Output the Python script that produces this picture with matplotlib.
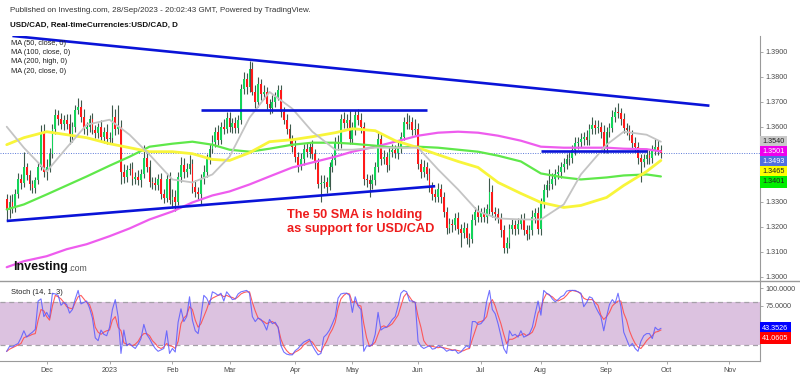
import numpy as np
import pandas as pd
import matplotlib
matplotlib.use("Agg")
import matplotlib.pyplot as plt
import matplotlib.transforms as mtransforms
from matplotlib.lines import Line2D

plt.rcParams['font.family'] = ['Liberation Sans', 'DejaVu Sans']

# ---------------- data ----------------
start_day = "2022-11-11"
first_open = 1.3310

closes = [
    # Nov 2022
    1.3265, 1.3300, 1.3280, 1.3330, 1.3390, 1.3375, 1.3440, 1.3405, 1.3370, 1.3355, 1.3385, 1.3440, 1.3580, 1.3420,
    # Dec
    1.3440, 1.3490, 1.3590, 1.3645, 1.3630, 1.3610, 1.3625, 1.3610, 1.3565, 1.3600, 1.3665, 1.3680, 1.3640, 1.3590,
    1.3600, 1.3630, 1.3585, 1.3575, 1.3600, 1.3560, 1.3580, 1.3550,
    # Jan 2023
    1.3555, 1.3640, 1.3590, 1.3600, 1.3420, 1.3400, 1.3425, 1.3430, 1.3390, 1.3400, 1.3385, 1.3410, 1.3475, 1.3440,
    1.3380, 1.3375, 1.3365, 1.3390, 1.3330, 1.3315, 1.3390, 1.3305,
    # Feb
    1.3320, 1.3300, 1.3400, 1.3445, 1.3420, 1.3430, 1.3450, 1.3360, 1.3340, 1.3330, 1.3390, 1.3420, 1.3470, 1.3510,
    1.3540, 1.3580, 1.3545, 1.3600, 1.3590, 1.3635,
    # Mar
    1.3600, 1.3615, 1.3595, 1.3625, 1.3750, 1.3790, 1.3760, 1.3830, 1.3740, 1.3700, 1.3770, 1.3730, 1.3740, 1.3690,
    1.3675, 1.3700, 1.3720, 1.3745, 1.3660, 1.3625, 1.3590, 1.3545, 1.3520,
    # Apr
    1.3480, 1.3445, 1.3470, 1.3510, 1.3500, 1.3520, 1.3490, 1.3455, 1.3370, 1.3375, 1.3380, 1.3360, 1.3440, 1.3465,
    1.3540, 1.3530, 1.3630, 1.3615, 1.3625, 1.3550,
    # May
    1.3590, 1.3645, 1.3625, 1.3600, 1.3390, 1.3385, 1.3370, 1.3385, 1.3440, 1.3550, 1.3470, 1.3480, 1.3445, 1.3500,
    1.3505, 1.3495, 1.3515, 1.3560, 1.3620, 1.3610, 1.3620, 1.3585, 1.3590,
    # Jun
    1.3450, 1.3420, 1.3440, 1.3410, 1.3360, 1.3330, 1.3320, 1.3350, 1.3320, 1.3260, 1.3195, 1.3210, 1.3205, 1.3235,
    1.3190, 1.3175, 1.3195, 1.3155, 1.3150, 1.3225, 1.3260, 1.3240,
    # Jul
    1.3255, 1.3240, 1.3270, 1.3340, 1.3260, 1.3250, 1.3235, 1.3185, 1.3115, 1.3135, 1.3190, 1.3205, 1.3190, 1.3210,
    1.3230, 1.3185, 1.3170, 1.3185, 1.3240, 1.3255, 1.3190,
    # Aug
    1.3295, 1.3345, 1.3365, 1.3370, 1.3390, 1.3410, 1.3420, 1.3440, 1.3450, 1.3470, 1.3475, 1.3505, 1.3535, 1.3540,
    1.3550, 1.3560, 1.3545, 1.3590, 1.3605, 1.3595, 1.3600, 1.3580, 1.3515,
    # Sep
    1.3580, 1.3595, 1.3640, 1.3660, 1.3655, 1.3630, 1.3595, 1.3585, 1.3565, 1.3535, 1.3520, 1.3475, 1.3460, 1.3470,
    1.3485, 1.3475, 1.3505, 1.3520, 1.3505, 1.3493,
]

# upper / lower shadows, in pips
wick_up = [
    20, 25, 30, 20, 25, 20, 60, 15, 20, 15, 15, 20, 25, 30,
    30, 25, 20, 25, 20, 25, 20, 25, 40, 20, 20, 35, 25, 30, 20, 15, 25, 20, 15, 25, 20, 30,
    25, 48, 30, 85, 25, 30, 20, 25, 30, 20, 25, 20, 53, 20, 25, 20, 25, 20, 25, 20, 25, 30,
    30, 25, 20, 35, 30, 25, 38, 20, 25, 20, 20, 25, 20, 20, 25, 20, 25, 20, 30, 25,
    25, 20, 25, 20, 20, 30, 25, 32, 30, 25, 30, 20, 25, 20, 20, 25, 20, 20, 20, 20, 25, 20, 20,
    25, 20, 25, 20, 25, 20, 25, 20, 20, 30, 25, 20, 20, 25, 20, 25, 20, 30, 25, 43,
    30, 20, 25, 30, 20, 20, 20, 25, 20, 30, 20, 25, 20, 20, 25, 20, 25, 20, 20, 35, 25, 20, 40,
    25, 20, 25, 20, 25, 20, 20, 25, 20, 20, 20, 25, 20, 20, 25, 20, 25, 20, 20, 25, 20, 25,
    20, 25, 20, 56, 25, 20, 25, 20, 20, 25, 20, 25, 20, 25, 20, 25, 20, 20, 25, 20, 25,
    20, 25, 20, 60, 25, 20, 25, 20, 25, 20, 25, 20, 25, 20, 25, 20, 25, 20, 35, 20, 25, 20, 25,
    20, 20, 25, 20, 34, 20, 25, 20, 20, 20, 25, 20, 15, 20, 25, 20, 20, 30, 25, 20,
]
wick_dn = [
    40, 30, 25, 20, 15, 25, 15, 20, 25, 20, 20, 15, 15, 20,
    35, 20, 15, 20, 25, 20, 25, 20, 35, 25, 20, 15, 20, 20, 25, 20, 15, 20, 20, 20, 25, 20,
    20, 20, 25, 20, 50, 25, 20, 20, 25, 20, 20, 25, 15, 20, 20, 25, 20, 20, 20, 20, 15, 15,
    30, 38, 15, 20, 25, 20, 20, 25, 20, 25, 41, 20, 20, 20, 15, 20, 20, 15, 20, 15,
    20, 25, 20, 20, 15, 20, 30, 20, 15, 25, 20, 25, 20, 20, 25, 20, 20, 15, 20, 15, 20, 15, 20,
    20, 25, 20, 25, 20, 25, 20, 25, 15, 70, 20, 25, 15, 20, 20, 25, 15, 20, 20, 20,
    20, 25, 20, 25, 25, 25, 50, 20, 20, 20, 25, 20, 25, 20, 20, 20, 25, 20, 15, 20, 20, 20, 20,
    20, 25, 20, 25, 20, 25, 20, 20, 25, 20, 25, 20, 25, 20, 20, 58, 20, 25, 30, 15, 20, 20,
    20, 20, 25, 20, 20, 25, 20, 25, 20, 22, 20, 20, 25, 20, 20, 20, 25, 20, 20, 25, 20,
    25, 20, 25, 20, 20, 25, 20, 25, 20, 20, 25, 20, 20, 25, 20, 25, 20, 20, 20, 25, 20, 25, 20,
    20, 20, 15, 20, 20, 25, 20, 20, 20, 25, 20, 25, 80, 20, 20, 25, 20, 20, 20, 20,
]

# Stoch (14, 1, 3): %K (blue) and %D (red)
stoch_k = [
    11, 18, 17, 20, 22, 30, 40, 31, 35, 38, 42, 82, 85, 60,
    66, 58, 93, 92, 90, 76, 80, 77, 65, 70, 85, 97, 78, 80, 82, 72, 58, 30, 26, 41, 35, 33,
    45, 70, 84, 60, 8, 41, 19, 22, 18, 15, 21, 29, 49, 35, 29, 21, 15, 11, 13, 15, 40, 8,
    15, 10, 52, 71, 53, 60, 88, 55, 40, 36, 60, 90, 86, 77, 95, 93, 90, 93, 82, 95,
    90, 84, 85, 92, 95, 96, 97, 93, 60, 53, 58, 56, 50, 41, 56, 50, 52, 45, 19, 10, 7, 6, 6,
    12, 15, 20, 24, 26, 28, 19, 12, 6, 8, 31, 35, 41, 50, 60, 86, 92, 93, 93, 90,
    66, 88, 75, 70, 11, 19, 18, 21, 35, 66, 41, 44, 45, 50, 56, 60, 75, 93, 97, 95, 82, 82, 80,
    25, 18, 15, 17, 19, 14, 15, 19, 17, 15, 11, 13, 12, 13, 8, 10, 15, 19, 16, 53, 53, 49,
    50, 55, 81, 97, 70, 64, 50, 33, 15, 8, 40, 33, 35, 31, 40, 31, 33, 36, 45, 64, 82,
    62, 97, 93, 91, 85, 81, 84, 88, 90, 96, 97, 97, 97, 95, 93, 74, 80, 88, 86, 75, 67, 60, 40,
    60, 77, 84, 79, 93, 74, 38, 28, 18, 22, 15, 11, 25, 33, 36, 36, 29, 45, 41, 43.3526,
]
stoch_d = [
    11, 14, 16, 18, 20, 22, 30, 32, 33, 35, 36, 55, 70, 68,
    60, 55, 75, 90, 88, 85, 80, 74, 72, 71, 80, 88, 90, 85, 80, 77, 65, 45, 38, 35, 38, 40,
    41, 55, 60, 45, 40, 23, 21, 20, 19, 21, 25, 32, 36, 36, 33, 26, 22, 17, 15, 17, 22, 19,
    18, 15, 25, 50, 58, 62, 74, 70, 55, 45, 50, 60, 70, 82, 86, 88, 90, 91, 88, 90,
    88, 87, 85, 88, 92, 94, 95, 95, 80, 68, 58, 55, 53, 50, 52, 53, 50, 45, 28, 18, 12, 8, 7,
    10, 12, 15, 20, 23, 26, 24, 18, 12, 10, 18, 25, 35, 42, 52, 72, 85, 90, 93, 92,
    80, 82, 76, 75, 50, 30, 18, 20, 24, 35, 45, 47, 45, 47, 50, 56, 62, 75, 88, 93, 88, 82, 80,
    60, 45, 26, 20, 18, 18, 17, 16, 17, 16, 15, 14, 13, 13, 12, 11, 12, 14, 15, 28, 40, 52,
    53, 55, 60, 78, 84, 75, 62, 50, 35, 22, 28, 28, 30, 33, 34, 36, 33, 35, 38, 47, 65,
    72, 85, 93, 90, 88, 84, 82, 84, 86, 90, 95, 97, 96, 95, 92, 86, 84, 84, 84, 80, 76, 62, 56,
    60, 66, 75, 79, 82, 82, 65, 55, 40, 30, 22, 17, 15, 20, 26, 30, 33, 38, 39, 41.0605,
]

# moving averages, sampled every ~10 days
ma_dates = ["2022-11-11", "2022-11-21", "2022-12-01", "2022-12-12", "2022-12-21", "2023-01-02",
            "2023-01-11", "2023-01-20", "2023-02-01", "2023-02-10", "2023-02-21", "2023-03-01",
            "2023-03-10", "2023-03-21", "2023-03-31", "2023-04-11", "2023-04-21", "2023-05-01",
            "2023-05-11", "2023-05-22", "2023-06-01", "2023-06-12", "2023-06-21", "2023-06-30",
            "2023-07-11", "2023-07-21", "2023-08-01", "2023-08-11", "2023-08-21", "2023-09-01",
            "2023-09-11", "2023-09-21", "2023-09-28"]
ma20 = [1.3600, 1.3516, 1.3421, 1.3516, 1.3608, 1.3628, 1.3568, 1.3488, 1.3389, 1.3377, 1.3409,
        1.3480, 1.3636, 1.3739, 1.3672, 1.3580, 1.3508, 1.3508, 1.3516, 1.3516, 1.3516, 1.3429,
        1.3349, 1.3261, 1.3233, 1.3229, 1.3229, 1.3289, 1.3409, 1.3528, 1.3580, 1.3568, 1.3540]
ma50 = [1.3528, 1.3556, 1.3580, 1.3568, 1.3556, 1.3532, 1.3516, 1.3500, 1.3500, 1.3492, 1.3469,
        1.3465, 1.3496, 1.3540, 1.3548, 1.3560, 1.3576, 1.3592, 1.3584, 1.3544, 1.3516, 1.3488,
        1.3461, 1.3437, 1.3377, 1.3333, 1.3297, 1.3277, 1.3285, 1.3317, 1.3365, 1.3421, 1.3465]
ma100 = [1.3269, 1.3289, 1.3329, 1.3365, 1.3401, 1.3444, 1.3480, 1.3520, 1.3532, 1.3540, 1.3528,
         1.3508, 1.3500, 1.3512, 1.3528, 1.3536, 1.3536, 1.3532, 1.3524, 1.3516, 1.3520, 1.3516,
         1.3508, 1.3500, 1.3484, 1.3461, 1.3413, 1.3397, 1.3389, 1.3397, 1.3405, 1.3409, 1.3401]
ma200 = [1.3038, 1.3062, 1.3082, 1.3110, 1.3130, 1.3162, 1.3193, 1.3229, 1.3261, 1.3297, 1.3325,
         1.3341, 1.3369, 1.3401, 1.3437, 1.3457, 1.3480, 1.3500, 1.3520, 1.3540, 1.3564, 1.3576,
         1.3580, 1.3576, 1.3564, 1.3544, 1.3520, 1.3516, 1.3516, 1.3516, 1.3512, 1.3510, 1.3501]

# hand drawn lines: (start date, start price, end date, end price)
line_starts = ["2022-11-10", "2022-11-15", "2023-02-15", "2023-08-01"]
line_ends = ["2023-06-09", "2023-10-23", "2023-06-06", "2023-09-21"]
line_p0 = [1.3223, 1.3963, 1.3666, 1.3502]
line_p1 = [1.3362, 1.3684, 1.3666, 1.3502]

month_labels = ["Dec", "2023", "Feb", "Mar", "Apr", "May", "Jun", "Jul", "Aug", "Sep", "Oct", "Nov"]
month_starts = pd.date_range("2022-12-01", periods=12, freq="MS")

# ---------------- helpers ----------------
days = pd.bdate_range(start_day, periods=280)


def bar_of(d):
    return int(days.searchsorted(pd.Timestamp(d)))


n = len(closes)
x = np.arange(n)
c = np.array(closes)
o = np.array([first_open] + closes[:-1])
hi = np.maximum(o, c) + np.array(wick_up) / 10000
lo = np.minimum(o, c) - np.array(wick_dn) / 10000
rising = c >= o

GREEN = "#14d45a"
RED = "#ff1a1a"
WICK = "#3e5a4c"
AXIS = "#9a9a9a"
TXT = "#4a4a4a"

fig = plt.figure(figsize=(8, 3.76), dpi=100)
ax = fig.add_axes([0, 1 - 281 / 376, 760 / 800, 245 / 376])
ax2 = fig.add_axes([0, 1 - 361 / 376, 760 / 800, 80 / 376], sharex=ax)

xlim = (-2.35, 263.7)

# ---- candles
ax.vlines(x, lo, hi, color=WICK, lw=0.8, zorder=3)
body = np.maximum(np.abs(c - o), 0.00025)
ax.bar(x[rising], body[rising], bottom=np.minimum(o, c)[rising], width=0.62,
       color=GREEN, linewidth=0, zorder=4)
ax.bar(x[~rising], body[~rising], bottom=np.minimum(o, c)[~rising], width=0.62,
       color=RED, linewidth=0, zorder=4)

# ---- moving averages
mx = [bar_of(d) for d in ma_dates]
ax.plot(mx, ma200, color="#ee5cee", lw=1.6, zorder=5, solid_capstyle="round")
ax.plot(mx, ma100, color="#5fe84a", lw=1.6, zorder=5, solid_capstyle="round")
ax.plot(mx, ma50, color="#f8f53a", lw=2.0, zorder=5, solid_capstyle="round")
ax.plot(mx, ma20, color="#c4c4c4", lw=1.3, zorder=5, solid_capstyle="round")

# ---- last price dotted line
ax.axhline(closes[-1], color="#5a78d8", lw=0.7, ls=(0, (1, 1.5)), zorder=2)

# ---- trend lines
for s, e, p0, p1 in zip(line_starts, line_ends, line_p0, line_p1):
    ax.plot([bar_of(s), bar_of(e)], [p0, p1], color="#0a14d8", lw=1.9, zorder=6,
            solid_capstyle="butt")

ax.set_xlim(*xlim)
ax.set_ylim(1.29828, 1.39628)
for side in ["left", "top", "bottom"]:
    ax.spines[side].set_visible(False)
ax.spines["right"].set_color(AXIS)
ax.yaxis.tick_right()
ticks = [1.30, 1.31, 1.32, 1.33, 1.36, 1.37, 1.38, 1.39]
ax.set_yticks(ticks)
ax.set_yticklabels([f"{t:.4f}" for t in ticks])
ax.tick_params(axis="y", direction="out", length=2.5, width=0.6, color=AXIS,
               labelsize=5.2, labelcolor=TXT, pad=1.5)
ax.tick_params(axis="x", which="both", bottom=False, labelbottom=False)

# ---- stochastic panel
ax2.axhspan(20, 80, color="#dcc2e0", lw=0, zorder=1)
for lvl in (20, 80):
    ax2.axhline(lvl, color="#a5a0a8", lw=0.9, ls=(0, (4, 3)), zorder=2)
ax2.plot(x, stoch_k, color="#5a5aff", lw=0.8, alpha=0.85, zorder=4)
ax2.plot(x, stoch_d, color="#ff4d4d", lw=0.8, alpha=0.9, zorder=3)
ax2.set_ylim(-2.7, 110.3)
for side in ["left", "top"]:
    ax2.spines[side].set_visible(False)
for side in ["right", "bottom"]:
    ax2.spines[side].set_color(AXIS)
ax2.yaxis.tick_right()
# 50 and 25 sit under the value tags, so only their tick marks show
ax2.set_yticks([25, 50, 75, 100])
ax2.set_yticklabels(["", "", "75.0000", "100.0000"])
ax2.tick_params(axis="y", direction="out", length=2.5, width=0.6, color=AXIS,
                labelsize=5.2, labelcolor=TXT, pad=1.5)
ax2.set_xticks([bar_of(d) for d in month_starts])
ax2.set_xticklabels(month_labels)
ax2.tick_params(axis="x", direction="out", length=2.5, width=0.6, color=AXIS,
                labelsize=5.2, labelcolor=TXT, pad=2)
ax2.set_xlim(*xlim)
ax2.text(0.014, 0.85, "Stoch (14, 1, 3)", transform=ax2.transAxes, fontsize=5.4,
         color="#222222", va="center")

# separator between the panels
fig.add_artist(Line2D([0, 1], [1 - 281 / 376] * 2, color=AXIS, lw=1.0))


# ---- value tags on the right axis, stacked so they do not overlap
def value_tags(axis, items, gap):
    trans = mtransforms.blended_transform_factory(axis.transAxes, axis.transData)
    last = None
    for val, bg, fg in sorted(items, key=lambda t: -t[0]):
        y = val if last is None else min(val, last - gap)
        last = y
        axis.text(1.003, y, f"{val:.4f}", transform=trans, fontsize=5.2, color=fg,
                  va="center", ha="left", zorder=10, clip_on=False,
                  bbox=dict(boxstyle="square,pad=0.34", fc=bg, ec="none"))


value_tags(ax, [(ma20[-1], "#c9c9c9", "#222222"), (ma200[-1], "#ee00ee", "white"),
                (closes[-1], "#4f6fe0", "white"), (ma50[-1], "#ffff00", "#222222"),
                (ma100[-1], "#00ee00", "#222222")], 0.004)
value_tags(ax2, [(stoch_k[-1], "#0000ff", "white"), (stoch_d[-1], "#ff0000", "white")], 14.1)

# ---- texts
fig.text(10 / 800, 1 - 10 / 376, "Published on Investing.com, 28/Sep/2023 - 20:02:43 GMT, Powered by TradingView.",
         fontsize=5.8, color="#333333", va="center")
fig.text(10 / 800, 1 - 25 / 376, "USD/CAD, Real-timeCurrencies:USD/CAD, D",
         fontsize=5.8, color="#111111", va="center", fontweight="bold")
for i, lab in enumerate(["MA (50, close, 0)", "MA (100, close, 0)", "MA (200, high, 0)", "MA (20, close, 0)"]):
    fig.text(11 / 800, 1 - (43.5 + 9.2 * i) / 376, lab, fontsize=5.3, color="#222222", va="center")

fig.text(13 / 800, 1 - 267 / 376, "Investing", fontsize=9, fontweight="bold", color="#111111", va="center")
fig.text(68 / 800, 1 - 268.5 / 376, ".com", fontsize=6.2, color="#555555", va="center")

ax.text(bar_of("2023-03-29"), 1.3247, "The 50 SMA is holding", color="#ee1c1c", fontsize=9.2,
        fontweight="bold", va="center", ha="left", zorder=8)
ax.text(bar_of("2023-03-29"), 1.3190, "as support for USD/CAD", color="#ee1c1c", fontsize=9.2,
        fontweight="bold", va="center", ha="left", zorder=8)

fig.savefig("out.png", dpi=100)
